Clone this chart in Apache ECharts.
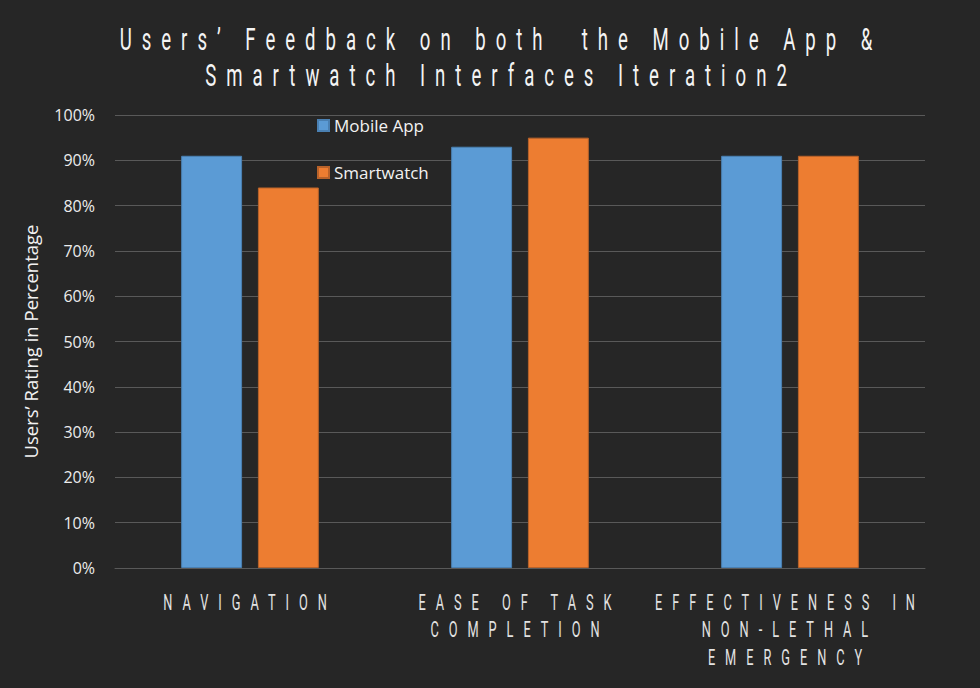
<!DOCTYPE html>
<html><head><meta charset="utf-8">
<script src="https://cdn.jsdelivr.net/npm/echarts@6/dist/echarts.min.js"></script>
<style>html,body{margin:0;padding:0;background:#262626}#c{width:980px;height:688px}</style>
</head><body><div id="c"></div>
<script>
const titleLines = ['Users\u2019 Feedback on both  the Mobile App &', 'Smartwatch Interfaces Iteration2'];
const categories = ['NAVIGATION', 'EASE OF TASK\nCOMPLETION', 'EFFECTIVENESS IN\nNON-LETHAL\nEMERGENCY'];
const seriesNames = ['Mobile App', 'Smartwatch'];
const mobileApp = [91, 93, 91];
const smartwatch = [84, 95, 91];
const yAxisName = 'Users\u2019 Rating in Percentage';

const thin = "Roboto,'Liberation Sans',sans-serif";
const body = "'Open Sans',Lato,sans-serif";

const chart = echarts.init(document.getElementById('c'), null, {renderer: 'svg'});
chart.setOption({
  animation: false,
  backgroundColor: '#262626',
  title: {
    text: titleLines.join('\n'),
    left: 'center',
    top: 21,
    padding: 0,
    textStyle: {color: '#f4f4f4', fontFamily: thin, fontSize: 31, fontWeight: 'normal', lineHeight: 36}
  },
  legend: {
    data: seriesNames,
    orient: 'vertical',
    left: 317,
    top: 117,
    padding: 0,
    itemWidth: 11,
    itemHeight: 11,
    itemGap: 30,
    icon: 'rect',
    textStyle: {color: '#f2f2f2', fontFamily: body, fontSize: 17}
  },
  grid: {left: 115, right: 55, top: 115, bottom: 120},
  xAxis: {
    type: 'category',
    data: categories,
    axisLine: {lineStyle: {color: '#595959', width: 1}},
    axisTick: {show: false},
    axisLabel: {color: '#e2e2e2', fontFamily: thin, fontSize: 22, lineHeight: 27.5, margin: 20, interval: 0}
  },
  yAxis: {
    type: 'value',
    min: 0, max: 100, interval: 10,
    name: yAxisName,
    nameLocation: 'middle',
    nameGap: 75,
    nameTextStyle: {color: '#f2f2f2', fontFamily: body, fontSize: 18.5},
    axisLine: {show: false},
    axisTick: {show: false},
    axisLabel: {formatter: '{value}%', color: '#ececec', fontFamily: body, fontSize: 16, margin: 20},
    splitLine: {lineStyle: {color: '#595959', width: 1}}
  },
  series: [
    {name: seriesNames[0], type: 'bar', data: mobileApp, barGap: '26%', barCategoryGap: '49%',
     itemStyle: {color: '#5b9bd5', borderColor: '#4a80b2', borderWidth: 1}},
    {name: seriesNames[1], type: 'bar', data: smartwatch,
     itemStyle: {color: '#ed7d31', borderColor: '#b8622a', borderWidth: 1}}
  ]
});

// condensed, widely spaced lettering (styling only)
const groups = [
  {lines: titleLines, fitLine: titleLines[0], fitWidth: 753, scale: 0.6, recenter: true, dx: 6},
  {lines: categories.join('\n').split('\n'), fitLine: 'EFFECTIVENESS IN', fitWidth: 260, scale: 0.58, recenter: false, dx: 0}
];
function applySpacing() {
  const texts = Array.from(document.querySelectorAll('#c svg text'));
  groups.forEach(g => {
    if (g.sp === undefined) {
      const fitEl = texts.find(el => el.textContent === g.fitLine && !el.dataset.done);
      if (!fitEl) return;
      const w0 = fitEl.getComputedTextLength();
      g.sp = (g.fitWidth - w0 * g.scale) / ((g.fitLine.length - 1) * g.scale);
    }
    const sp = g.sp;
    texts.forEach(el => {
      if (g.lines.indexOf(el.textContent) < 0 || el.dataset.done) return;
      el.dataset.done = '1';
      const x = parseFloat(el.getAttribute('x') || '0');
      const base = el.getAttribute('transform') || '';
      const shift = (g.recenter ? sp * g.scale / 2 : 0) + g.dx;
      el.setAttribute('letter-spacing', sp.toFixed(2));
      el.setAttribute('transform', base + ' translate(' + (x + shift) + ',0) scale(' + g.scale + ',1) translate(' + (-x) + ',0)');
    });
  });
}
chart.on('finished', applySpacing);
applySpacing();
setTimeout(applySpacing, 0);
</script>
</body></html>
